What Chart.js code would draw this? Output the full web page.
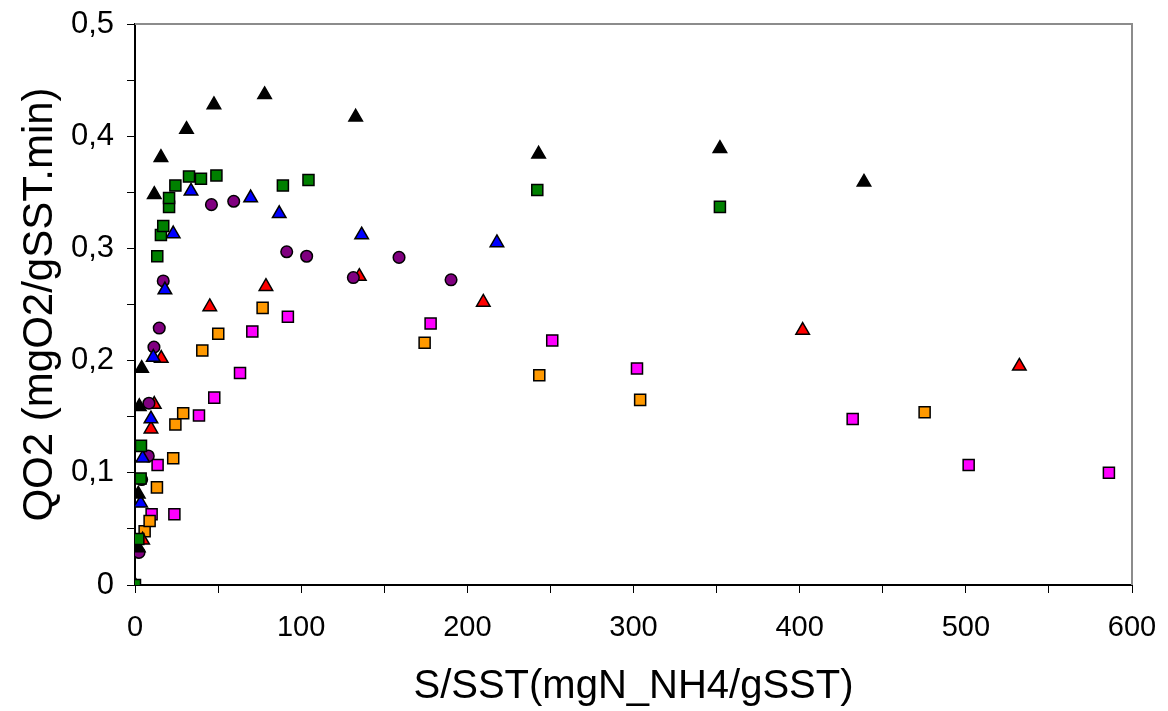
<!DOCTYPE html>
<html>
<head>
<meta charset="utf-8">
<script src="https://cdn.jsdelivr.net/npm/chart.js@4/dist/chart.umd.min.js"></script>
<style>
  html, body { margin: 0; padding: 0; background: #fff; }
  #wrap { width: 1168px; height: 711px; }
</style>
</head>
<body>
<div id="wrap"><canvas id="scatter-chart"></canvas></div>
<script>
// series (x = S/SST, y = QO2)
var blackX = [0, 2, 2, 2.6, 4, 11.6, 15.6, 31, 47.5, 78, 132.8, 242.9, 352, 438.7];
var blackY = [0, 0.033, 0.081, 0.159, 0.193, 0.348, 0.381, 0.406, 0.428, 0.437, 0.417, 0.384, 0.389, 0.359];

var greenX = [0, 2, 3.4, 3.6, 13.4, 15.6, 17, 20.5, 20.5, 24.3, 32.5, 39.7, 49, 89, 104.4, 242.1, 352];
var greenY = [0, 0.041, 0.095, 0.124, 0.293, 0.312, 0.320, 0.337, 0.345, 0.356, 0.364, 0.362, 0.365, 0.356, 0.361, 0.352, 0.337];

var blueX = [3.4, 4.6, 9.6, 11, 18, 23, 33.7, 69.6, 86.8, 136.4, 217.8];
var blueY = [0.073, 0.113, 0.148, 0.203, 0.263, 0.313, 0.351, 0.345, 0.331, 0.312, 0.305];

var purpleX = [2.4, 4, 8, 8.4, 11.4, 14.6, 17, 46, 59.4, 91.3, 103.3, 131.4, 158.9, 190.2];
var purpleY = [0.029, 0.094, 0.115, 0.162, 0.212, 0.229, 0.271, 0.339, 0.342, 0.297, 0.293, 0.274, 0.292, 0.272];

var redX = [4.6, 9.6, 11.6, 15.8, 45, 78.8, 135, 209.6, 401.8, 532.2];
var redY = [0.040, 0.139, 0.161, 0.202, 0.248, 0.266, 0.275, 0.252, 0.227, 0.195];

var orangeX = [5.8, 8.8, 13.2, 23, 24.3, 29, 40.5, 50.1, 76.8, 174.3, 243.3, 304, 475.2];
var orangeY = [0.048, 0.057, 0.087, 0.113, 0.143, 0.153, 0.209, 0.224, 0.247, 0.216, 0.187, 0.165, 0.154];

var magentaX = [10, 13.6, 23.7, 38.5, 47.7, 63.2, 70.6, 92, 177.9, 251.1, 302.1, 431.9, 501.7, 586.1];
var magentaY = [0.063, 0.107, 0.063, 0.151, 0.167, 0.189, 0.226, 0.239, 0.233, 0.218, 0.193, 0.148, 0.107, 0.100];

function pts(xs, ys) {
    var out = [];
    for (var i = 0; i < xs.length; i++) {
        out.push({x: xs[i], y: ys[i]});
    }
    return out;
}

function serie(label, xs, ys, color, shape, r) {
    return {
        label: label,
        data: pts(xs, ys),
        backgroundColor: color,
        borderColor: '#000',
        borderWidth: 1.5,
        pointStyle: shape,
        pointRadius: r,
        pointHoverRadius: r
    };
}

// grey frame on top and right of the plot area
var framePlugin = {
    id: 'frame',
    beforeDatasetsDraw: function (chart) {
        var a = chart.chartArea;
        var c = chart.ctx;
        c.save();
        c.strokeStyle = '#8c8c8c';
        c.lineWidth = 2;
        c.beginPath();
        c.moveTo(a.left, a.top);
        c.lineTo(a.right, a.top);
        c.lineTo(a.right, a.bottom);
        c.stroke();
        c.restore();
    }
};

Chart.defaults.font.family = '"Liberation Sans", Arial, sans-serif';
Chart.defaults.color = '#000';

var ctx = document.getElementById('scatter-chart');
var chart = new Chart(ctx, {
    type: 'scatter',
    data: {
        datasets: [
            serie('green', greenX, greenY, '#008000', 'rect', 7.8),
            serie('black', blackX, blackY, '#000000', 'triangle', 7.8),
            serie('blue', blueX, blueY, '#0000ff', 'triangle', 7.8),
            serie('purple', purpleX, purpleY, '#800080', 'circle', 5.8),
            serie('red', redX, redY, '#ff0000', 'triangle', 7.8),
            serie('orange', orangeX, orangeY, '#ff9900', 'rect', 7.8),
            serie('magenta', magentaX, magentaY, '#ff00ff', 'rect', 7.8)
        ]
    },
    options: {
        responsive: true,
        maintainAspectRatio: false,
        animation: false,
        layout: { padding: { left: 0, right: 36, top: 24, bottom: 0 } },
        plugins: {
            legend: { display: false },
            tooltip: { enabled: false }
        },
        scales: {
            x: {
                type: 'linear',
                min: 0,
                max: 600,
                afterFit: function (s) { s.height = 126; s.paddingLeft = 0; s.paddingRight = 0; },
                border: { color: '#000', width: 2 },
                grid: { drawOnChartArea: false, drawTicks: true, tickLength: 8, color: '#000', lineWidth: 1 },
                ticks: {
                    stepSize: 50,
                    autoSkip: false,
                    maxRotation: 0,
                    padding: 18,
                    font: { size: 29 },
                    callback: function (v) { return v % 100 === 0 ? String(v) : ''; }
                },
                title: {
                    display: true,
                    text: 'S/SST(mgN_NH4/gSST)',
                    font: { size: 40 },
                    padding: { top: 4, bottom: 0 }
                }
            },
            y: {
                type: 'linear',
                min: 0,
                max: 0.5,
                afterFit: function (s) { s.width = 135; s.paddingTop = 0; s.paddingBottom = 0; },
                border: { color: '#000', width: 2 },
                grid: { drawOnChartArea: false, drawTicks: true, tickLength: 8, color: '#000', lineWidth: 1 },
                ticks: {
                    stepSize: 0.05,
                    autoSkip: false,
                    padding: 13,
                    font: { size: 31 },
                    callback: function (v) {
                        var k = Math.round(v * 100);
                        if (k % 10 !== 0) return '';
                        return k === 0 ? '0' : (k / 100).toFixed(1).replace('.', ',');
                    }
                },
                title: {
                    display: true,
                    text: 'QO2 (mgO2/gSST.min)',
                    font: { size: 42 },
                    padding: { top: 15, bottom: 0 }
                }
            }
        }
    },
    plugins: [framePlugin]
});
</script>
</body>
</html>
